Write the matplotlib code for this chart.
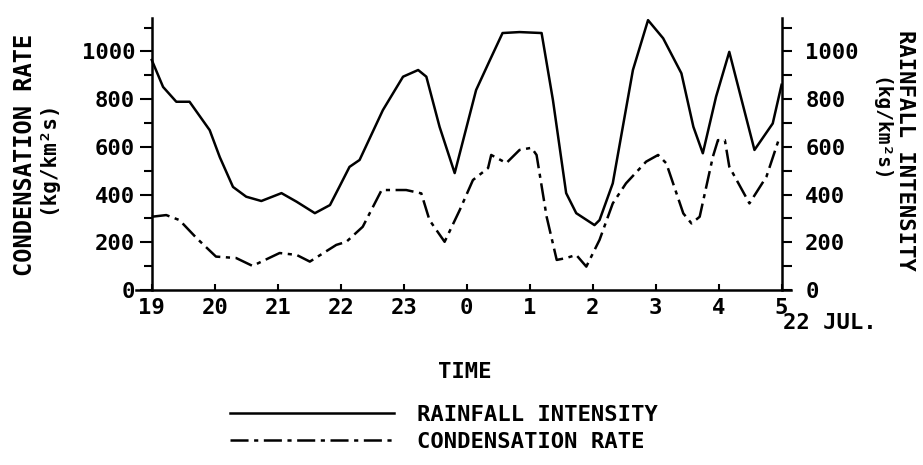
import matplotlib
matplotlib.use("Agg")
import matplotlib.pyplot as plt
from matplotlib.ticker import MultipleLocator

plt.rcParams['font.family'] = 'DejaVu Sans Mono'
plt.rcParams['font.weight'] = 'bold'
plt.rcParams['lines.scale_dashes'] = False

# hours after 19:00 on 21 Jul.
hour_labels = ["19", "20", "21", "22", "23", "0", "1", "2", "3", "4", "5"]

# rainfall intensity (right axis)
rain_t = [0, 0.18, 0.39, 0.6, 0.92, 1.08, 1.29, 1.5, 1.74, 2.06, 2.3, 2.59, 2.83,
          2.98, 3.14, 3.3, 3.67, 3.99, 4.23, 4.36, 4.57, 4.81, 5.15, 5.37, 5.57,
          5.84, 6.19, 6.37, 6.58, 6.74, 7.03, 7.11, 7.32, 7.64, 7.88, 8.12, 8.41,
          8.6, 8.75, 8.96, 9.17, 9.38, 9.57, 9.86, 10.0]
rain = [964, 851, 789, 789, 670, 557, 432, 391, 373, 406, 370, 322, 356,
        433, 516, 545, 754, 894, 922, 894, 684, 490, 838, 964, 1077,
        1081, 1077, 796, 406, 322, 272, 293, 447, 922, 1131, 1055, 908,
        684, 573, 810, 998, 782, 587, 698, 860]

# condensation rate (left axis)
cond_t = [0, 0.23, 0.44, 0.71, 1.02, 1.34, 1.6, 2.03, 2.3, 2.51, 2.93, 3.09,
          3.35, 3.65, 4.04, 4.28, 4.41, 4.65, 4.89, 5.1, 5.34, 5.39, 5.63, 5.84,
          6.03, 6.11, 6.27, 6.43, 6.58, 6.74, 6.9, 7.11, 7.32, 7.53, 7.85, 8.04,
          8.17, 8.44, 8.57, 8.7, 8.91, 8.99, 9.1, 9.17, 9.49, 9.76, 9.97]
cond = [307, 314, 293, 218, 140, 134, 101, 155, 147, 119, 189, 202,
        265, 419, 419, 405, 293, 202, 335, 461, 511, 566, 532, 587,
        596, 566, 307, 126, 134, 147, 98, 210, 363, 447, 538, 566,
        531, 321, 279, 307, 559, 628, 628, 517, 363, 475, 642]

W, H = 923, 465
fig = plt.figure(figsize=(W / 100, H / 100), dpi=100)
ax = fig.add_axes([136 / W, 1 - 290 / H, 655 / W, 272 / H])
ax2 = ax.twinx()

dash = (0, (13, 4, 3, 4))
l_cond, = ax.plot(cond_t, cond, color='black', lw=1.8, ls=dash)
l_rain, = ax2.plot(rain_t, rain, color='black', lw=1.8)

for a in (ax, ax2):
    a.set_xlim(-0.25, 10.15)
    a.set_ylim(0, 1140)
    a.spines['top'].set_visible(False)
    a.patch.set_visible(False)

ax.spines['left'].set_position(('data', 0))
ax2.spines['right'].set_position(('data', 10))
ax2.spines['left'].set_visible(False)
ax2.spines['bottom'].set_visible(False)
ax.spines['right'].set_visible(False)
for s in ('left', 'bottom'):
    ax.spines[s].set_linewidth(1.8)
ax2.spines['right'].set_linewidth(1.8)

ax.set_xticks(range(len(hour_labels)))
ax.set_xticklabels(hour_labels)
ax.tick_params(axis='x', direction='in', length=4, width=1.5, pad=6, labelsize=16)
ax.yaxis.set_major_locator(MultipleLocator(200))
ax.yaxis.set_minor_locator(MultipleLocator(100))
ax.tick_params(axis='y', which='major', direction='out', length=9, width=1.5, pad=3, labelsize=16)
ax.tick_params(axis='y', which='minor', direction='out', length=6, width=1.5)

ax2.set_yticks([0, 200, 400, 600, 800, 1000])
ax2.yaxis.set_minor_locator(MultipleLocator(100))
ax2.tick_params(axis='y', which='both', direction='out', length=7, width=1.5, pad=10, labelsize=16)

fig.text(25 / W, 1 - 155 / H, "CONDENSATION RATE", rotation=90, ha='center', va='center', fontsize=17)
fig.text(47 / W, 1 - 157 / H, "(kg/km²s)", rotation=90, ha='center', va='center', fontsize=15)
fig.text(905 / W, 1 - 150 / H, "RAINFALL INTENSITY", rotation=-90, ha='center', va='center', fontsize=16)
fig.text(880 / W, 1 - 130 / H, "(kg/km²s)", rotation=-90, ha='center', va='center', fontsize=14)
fig.text(830 / W, 1 - 323 / H, "22 JUL.", ha='center', va='center', fontsize=16)
fig.text(465 / W, 1 - 372 / H, "TIME", ha='center', va='center', fontsize=16)

fig.legend([l_rain, l_cond], ["RAINFALL INTENSITY", "CONDENSATION RATE"],
           loc='upper left', bbox_to_anchor=(230 / W, 1 - 405 / H),
           frameon=False, fontsize=16, handlelength=7.4, handletextpad=1.0,
           labelspacing=0.3, borderpad=0, borderaxespad=0)

fig.savefig("out.png", dpi=100)
